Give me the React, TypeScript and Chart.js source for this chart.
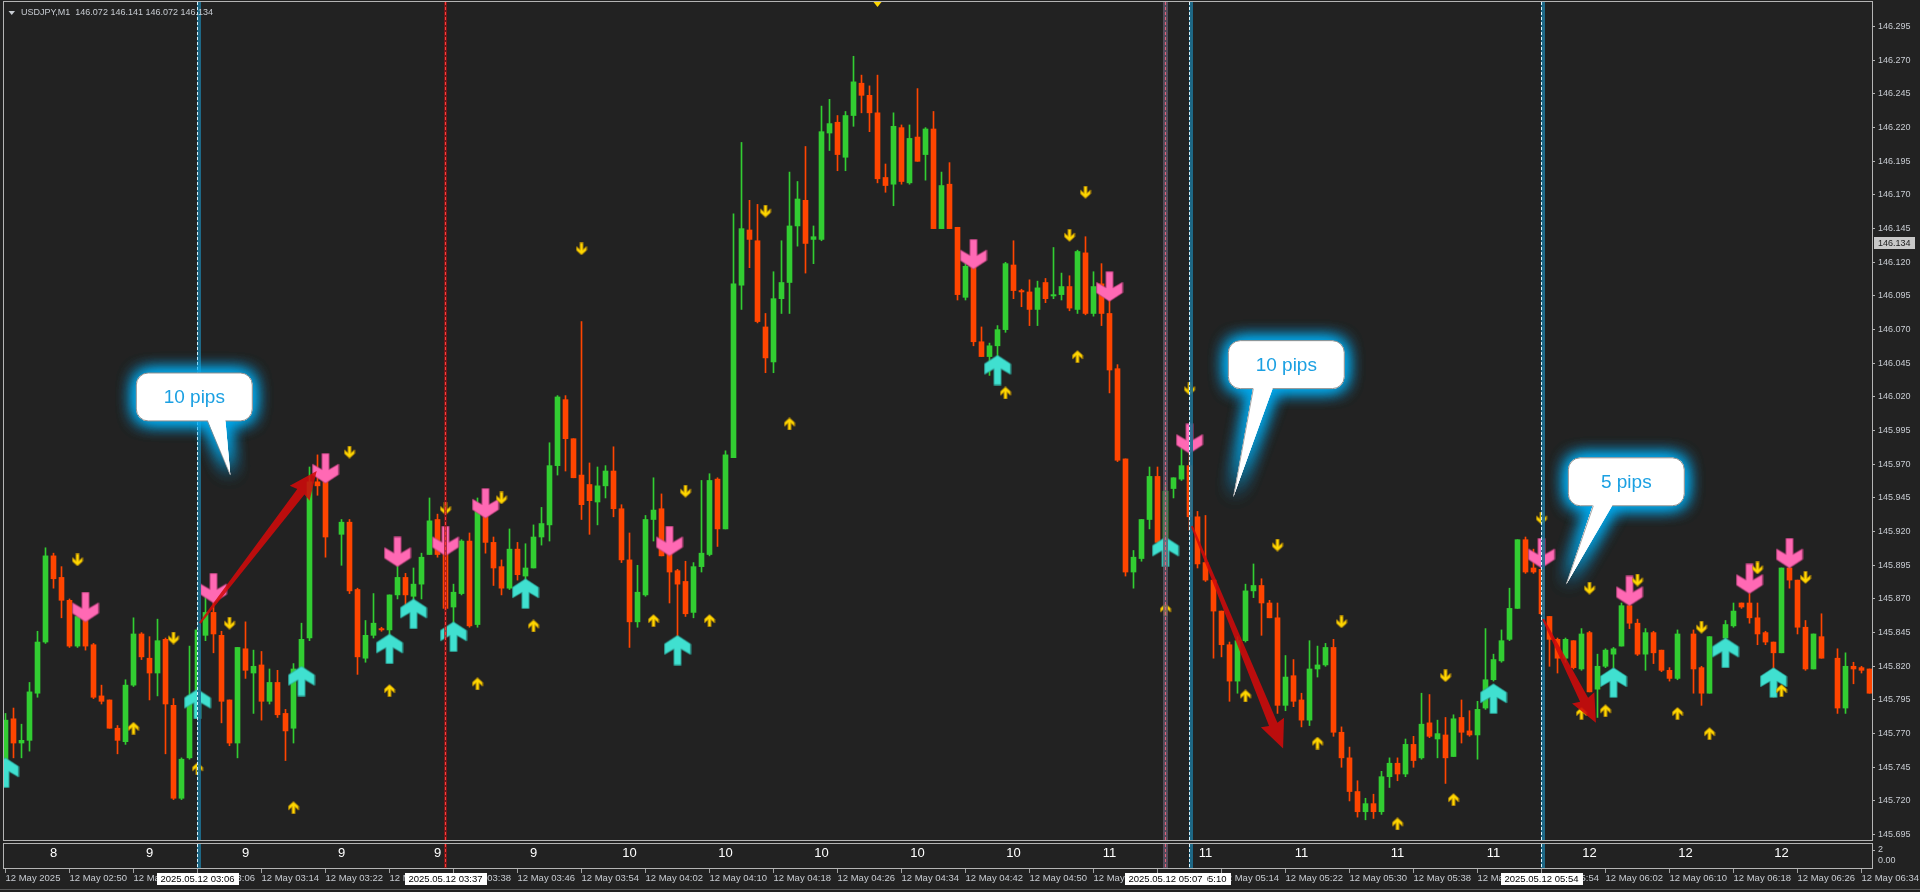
import React, { useEffect, useRef } from 'react';
import { Chart, registerables } from 'chart.js';

Chart.register(...registerables);

const TITLE = 'USDJPY,M1  146.072 146.141 146.072 146.134';
const LAST_PRICE = 146.134;

// one-minute candles, 12 May 2025 02:42 .. 06:35 (null = no visible candle)
const OPEN = [
  145.748,145.781,145.763,145.765,145.800,145.838,145.902,145.886,145.869,145.835,
  145.855,145.836,145.798,145.795,145.774,145.764,145.806,145.844,145.826,145.815,
  145.840,145.791,145.722,145.752,145.802,145.843,145.860,145.843,145.795,145.763,
  145.833,145.815,145.821,145.794,145.808,145.785,145.774,145.817,145.841,145.957,
  145.958,null,145.918,145.927,145.877,145.826,145.843,145.848,145.847,145.873,
  145.886,145.872,145.881,145.903,145.929,145.904,145.864,145.874,145.913,145.851,
  145.933,145.912,145.894,145.878,145.907,145.887,145.893,145.916,145.925,145.969,
  146.018,145.989,145.962,145.955,145.942,145.954,145.965,145.937,145.899,145.853,
  145.873,145.929,145.937,145.904,145.891,145.883,145.860,145.894,145.903,145.959,
  145.922,145.975,146.103,146.144,146.136,146.072,146.046,146.093,146.105,146.147,
  146.166,146.137,146.137,146.216,146.224,146.198,146.229,146.253,146.244,146.231,
  146.183,146.178,146.220,146.179,146.213,146.200,146.219,146.145,146.178,146.146,
  146.094,146.117,146.061,146.050,146.058,146.070,146.118,146.099,146.098,146.085,
  146.105,146.095,146.096,146.102,146.085,146.127,146.082,146.104,146.082,146.041,
  145.974,145.890,145.900,145.929,145.961,145.912,145.952,145.959,145.969,145.931,
  145.897,145.884,145.861,145.836,145.809,145.839,145.876,145.880,145.867,145.856,
  145.791,145.813,145.795,145.780,145.818,145.821,145.834,145.771,145.752,145.727,
  145.712,145.718,145.712,145.738,145.748,145.740,145.762,145.752,145.778,145.766,
  145.769,145.753,145.782,145.772,145.769,145.789,145.810,145.824,145.840,145.863,
  145.914,145.893,145.892,145.857,145.840,145.826,145.839,145.818,145.845,145.803,
  145.820,145.829,145.835,145.865,145.852,145.829,145.845,145.832,145.817,145.811,
  null,145.844,145.819,145.800,null,145.841,145.850,145.867,145.867,145.856,
  145.845,145.838,145.830,145.893,145.884,145.849,145.818,145.842,null,145.826,
  145.789,145.820,145.819,145.818
];
const HIGH = [
  145.785,145.789,145.777,145.808,145.846,145.908,145.904,145.894,145.870,145.859,
  145.857,145.837,145.806,145.795,145.776,145.810,145.856,145.845,145.842,145.855,
  145.841,145.796,145.752,145.835,145.848,145.874,145.870,145.846,145.795,145.834,
  145.853,145.832,145.831,145.818,145.817,145.788,145.822,145.852,145.968,145.977,
  145.958,null,145.929,145.929,145.878,145.854,145.874,145.849,145.873,145.896,
  145.889,145.893,145.904,145.945,145.933,145.923,145.881,145.914,145.919,145.945,
  145.933,145.916,145.899,145.922,145.912,145.911,145.925,145.938,145.986,146.021,
  146.021,145.989,146.076,145.971,145.968,145.969,145.983,145.940,145.919,145.895,
  145.932,145.960,145.948,145.904,145.892,145.898,145.897,145.958,145.963,145.960,
  145.980,146.156,146.209,146.166,146.163,146.082,146.113,146.136,146.187,146.180,
  146.206,146.147,146.236,146.241,146.229,146.232,146.273,146.259,146.251,146.259,
  146.193,146.231,146.222,146.222,146.249,146.220,146.232,146.187,146.194,146.146,
  146.125,146.118,146.072,146.060,146.073,146.120,146.136,146.100,146.107,146.106,
  146.108,146.131,146.112,146.110,146.129,146.139,146.113,146.119,146.092,146.044,
  145.974,145.906,145.929,145.968,145.968,145.955,145.960,145.982,145.982,145.935,
  145.932,145.884,145.861,145.838,145.842,145.881,145.896,145.885,145.869,145.867,
  145.828,145.825,145.800,145.839,145.835,145.837,145.840,145.775,145.760,145.735,
  145.722,145.725,145.742,145.752,145.752,145.766,145.768,145.800,145.799,145.780,
  145.782,145.784,145.795,145.787,145.794,145.848,145.829,145.847,145.878,145.914,
  145.916,145.907,145.910,145.857,145.841,145.841,145.839,145.848,145.846,145.829,
  145.833,145.834,145.867,145.867,145.855,145.848,145.846,145.832,145.819,145.847,
  null,145.847,145.820,145.842,null,145.854,145.867,145.867,145.874,145.867,
  145.846,145.838,145.893,145.896,145.884,145.854,145.844,145.859,null,145.833,
  145.830,145.823,145.820,145.818
];
const LOW = [
  145.742,145.752,145.752,145.757,145.797,145.837,145.878,145.856,145.834,145.834,
  145.832,145.796,145.792,145.774,145.755,145.762,145.805,145.825,145.795,145.798,
  145.755,145.721,145.721,145.751,145.794,145.839,145.830,145.778,145.761,145.752,
  145.811,145.785,145.780,145.792,145.782,145.750,145.763,145.817,145.839,145.947,
  145.901,null,145.895,145.874,145.814,145.823,145.841,145.846,145.841,145.870,
  145.861,145.861,145.870,145.903,145.901,145.862,145.849,145.873,145.849,145.849,
  145.904,145.880,145.873,145.877,145.884,145.883,145.893,145.910,145.913,145.962,
  145.965,145.960,145.929,145.918,145.925,145.945,145.931,145.897,145.834,145.849,
  145.872,145.913,145.902,145.867,145.838,145.857,145.856,145.890,145.902,145.909,
  145.922,145.975,146.085,146.116,146.075,146.038,146.038,146.082,146.082,146.132,
  146.112,146.119,146.136,146.203,146.188,146.188,146.221,146.231,146.217,146.179,
  146.172,146.162,146.178,146.178,146.195,146.181,146.145,146.145,146.145,146.092,
  146.092,146.058,146.050,146.036,146.043,146.068,146.093,146.087,146.073,146.073,
  146.090,146.093,146.092,146.084,146.082,146.081,146.080,146.073,146.023,145.972,
  145.887,145.878,145.898,145.922,145.912,145.905,145.945,145.958,145.921,145.893,
  145.883,145.826,145.827,145.794,145.800,145.838,145.871,145.843,145.856,145.785,
  145.787,145.790,145.775,145.776,145.812,145.820,145.768,145.745,145.720,145.708,
  145.706,145.707,145.710,145.730,145.735,145.738,145.745,145.751,145.767,145.752,
  145.733,145.753,145.763,145.768,145.751,145.788,145.809,145.823,145.839,145.863,
  145.889,145.889,145.858,145.820,145.815,145.823,145.818,145.817,145.801,145.782,
  145.819,145.819,145.835,145.848,145.828,145.817,145.822,145.816,145.809,145.810,
  null,145.800,145.791,145.800,null,145.840,145.849,145.863,145.852,145.836,
  145.836,145.797,145.830,145.878,145.844,145.817,145.818,145.826,null,145.785,
  145.785,145.807,145.815,145.800
];
const CLOSE = [
  145.780,145.763,145.765,145.801,145.838,145.902,145.885,145.869,145.835,145.857,
  145.835,145.797,145.794,145.774,145.765,145.806,145.844,145.827,145.815,145.839,
  145.792,145.722,145.751,145.798,145.847,145.860,145.844,145.794,145.763,145.834,
  145.817,145.820,145.794,145.808,145.784,145.772,145.818,145.840,145.957,145.954,
  145.916,null,145.927,145.876,145.827,145.843,145.852,145.847,145.873,145.886,
  145.873,145.881,145.901,145.928,145.903,145.863,145.875,145.913,145.850,145.935,
  145.912,145.893,145.878,145.907,145.888,145.893,145.916,145.926,145.969,146.020,
  145.989,145.960,145.940,145.943,145.954,145.965,145.937,145.899,145.853,145.875,
  145.929,145.936,145.902,145.890,145.881,145.859,145.894,145.904,145.958,145.922,
  145.977,146.104,146.145,146.137,146.076,146.049,146.093,146.105,146.147,146.167,
  146.134,146.139,146.217,146.223,146.200,146.229,146.254,146.244,146.231,146.182,
  146.177,146.221,146.180,146.212,146.195,146.219,146.145,146.177,146.145,146.096,
  146.117,146.061,146.050,146.058,146.070,146.119,146.099,146.098,146.085,146.101,
  146.093,146.096,146.102,146.086,146.128,146.082,146.102,146.082,146.040,145.973,
  145.890,145.901,145.929,145.961,145.912,145.950,145.960,145.969,145.931,145.896,
  145.884,145.861,145.836,145.809,145.839,145.876,145.880,145.867,145.856,145.791,
  145.812,145.794,145.780,145.818,145.821,145.834,145.771,145.752,145.727,145.712,
  145.718,145.712,145.738,145.748,145.740,145.762,145.750,145.777,145.768,145.770,
  145.752,145.781,145.771,145.769,145.788,145.810,145.825,145.839,145.863,145.914,
  145.890,145.890,145.859,145.840,145.826,145.840,145.819,145.844,145.801,145.820,
  145.832,145.833,145.865,145.852,145.829,145.845,145.830,145.817,145.811,145.844,
  null,145.818,145.800,145.842,null,145.851,145.861,145.864,145.856,145.844,
  145.838,145.830,145.893,145.884,145.849,145.818,145.844,145.826,null,145.789,
  145.820,145.818,145.817,145.800
];

// signal arrows: bar index + price of the arrow centre
const PINK_K = [10, 26, 40, 49, 55, 60, 83, 121, 138, 148, 192, 203, 218, 223];
const PINK_P = [145.864, 145.878, 145.967, 145.905, 145.913, 145.941, 145.913, 146.126, 146.102, 145.989, 145.904, 145.876, 145.885, 145.904];
const CYAN_K = [0, 24, 37, 48, 51, 56, 65, 84, 124, 145, 186, 201, 215, 221];
const CYAN_P = [145.741, 145.792, 145.809, 145.833, 145.859, 145.842, 145.874, 145.832, 146.040, 145.905, 145.796, 145.808, 145.830, 145.808];
const YDN_K = [9, 21, 28, 43, 55, 62, 72, 85, 95, 133, 135, 148, 159, 167, 180, 192, 198, 204, 212, 219, 225];
const YDN_P = [145.899, 145.841, 145.852, 145.979, 145.937, 145.945, 146.130, 145.950, 146.158, 146.140, 146.172, 146.026, 145.910, 145.853, 145.813, 145.930, 145.878, 145.884, 145.849, 145.893, 145.886];
const YUP_K = [16, 24, 36, 48, 59, 66, 81, 88, 98, 125, 134, 145, 155, 164, 174, 181, 197, 200, 209, 213, 222];
const YUP_P = [145.774, 145.744, 145.715, 145.802, 145.807, 145.850, 145.854, 145.854, 146.000, 146.023, 146.050, 145.862, 145.798, 145.763, 145.703, 145.721, 145.785, 145.787, 145.785, 145.770, 145.802];

// red move arrows
const MOVE_FROM_K = [24.3, 148.3, 192.2];
const MOVE_FROM_P = [145.852, 145.924, 145.855];
const MOVE_TO_K = [38.9, 159.7, 198.8];
const MOVE_TO_P = [145.965, 145.759, 145.778];

// callouts
const CALLOUT_TEXT = ['10 pips', '10 pips', '5 pips'];
const CALLOUT_K = [23.6, 160.1, 202.6];
const CALLOUT_P = [146.020, 146.044, 145.957];
const CALLOUT_TIP_K = [28.1, 153.5, 195.1];
const CALLOUT_TIP_P = [145.962, 145.946, 145.881];

// vertical session lines
const CYAN_LINE_K = [24, 148, 192];
const RED_LINE_K = [55];
const ROSE_LINE_K = [145];
const MARK_K = [24, 55, 148, 145, 192];
const MARK_TEXT = ['2025.05.12 03:06', '2025.05.12 03:37', '2025.05.12 05:10', '2025.05.12 05:07', '2025.05.12 05:54'];

// axes
const Y_TICKS = [145.695, 145.720, 145.745, 145.770, 145.795, 145.820, 145.845, 145.870, 145.895, 145.920, 145.945, 145.970, 145.995, 146.020, 146.045, 146.070, 146.095, 146.120, 146.145, 146.170, 146.195, 146.220, 146.245, 146.270, 146.295];
const TIME_K = [0, 8, 16, 24, 32, 40, 48, 56, 64, 72, 80, 88, 96, 104, 112, 120, 128, 136, 144, 152, 160, 168, 176, 184, 192, 200, 208, 216, 224, 232];
const TIME_LABELS = ['12 May 2025', '12 May 02:50', '12 May 02:58', '12 May 03:06', '12 May 03:14', '12 May 03:22', '12 May 03:30', '12 May 03:38', '12 May 03:46', '12 May 03:54', '12 May 04:02', '12 May 04:10', '12 May 04:18', '12 May 04:26', '12 May 04:34', '12 May 04:42', '12 May 04:50', '12 May 04:58', '12 May 05:06', '12 May 05:14', '12 May 05:22', '12 May 05:30', '12 May 05:38', '12 May 05:46', '12 May 05:54', '12 May 06:02', '12 May 06:10', '12 May 06:18', '12 May 06:26', '12 May 06:34'];

// sub-window labels
const SUB_K = [6, 18, 30, 42, 54, 66, 78, 90, 102, 114, 126, 138, 150, 162, 174, 186, 198, 210, 222];
const SUB_V = ['8', '9', '9', '9', '9', '9', '10', '10', '10', '10', '10', '11', '11', '11', '11', '11', '12', '12', '12'];
const SUB_AXIS = ['2', '0.00'];
const TOP_MARK_K = [109];

const BG = '#222222';
const BULL = '#32CD32';
const BEAR = '#FF4500';
const TXT = '#C8CCD2';
const FONT = '"Liberation Sans", Arial, sans-serif';
const FRAME = '#B4B4B4';

function makeArrow(fill: string, edge: string, dir: 'up' | 'down', big: boolean): HTMLCanvasElement {
  const pts = big
    ? [[-3.5, 0], [3.5, 0], [3.5, 16], [13, 10.5], [13, 21], [0, 29.5], [-13, 21], [-13, 10.5], [-3.5, 16]]
    : [[-1.5, 0], [1.5, 0], [1.5, 7], [5, 3.5], [5, 7.5], [0, 12], [-5, 7.5], [-5, 3.5], [-1.5, 7]];
  const H = big ? 29.5 : 12;
  const w = big ? 28 : 12;
  const h = big ? 31 : 13;
  const c = document.createElement('canvas');
  c.width = w;
  c.height = h;
  const g = c.getContext('2d') as CanvasRenderingContext2D;
  g.translate(w / 2, (h - H) / 2);
  g.beginPath();
  pts.forEach(([x, y], i) => {
    const yy = dir === 'down' ? y : H - y;
    if (i) g.lineTo(x, yy);
    else g.moveTo(x, yy);
  });
  g.closePath();
  g.fillStyle = fill;
  g.fill();
  g.strokeStyle = edge;
  g.lineWidth = big ? 0.8 : 0.7;
  g.stroke();
  return c;
}

function vline(ctx: CanvasRenderingContext2D, x: number, y0: number, y1: number, kind: string) {
  ctx.save();
  if (kind === 'cyan') {
    ctx.fillStyle = 'rgba(30,112,145,0.9)';
    ctx.fillRect(x - 0.5, y0, 4, y1 - y0);
    ctx.strokeStyle = '#D6F3FF';
  } else if (kind === 'red') {
    ctx.fillStyle = 'rgba(150,20,20,0.7)';
    ctx.fillRect(x - 1.5, y0, 3, y1 - y0);
    ctx.strokeStyle = '#FF3A3A';
  } else {
    ctx.fillStyle = 'rgba(100,88,108,0.8)';
    ctx.fillRect(x - 2.5, y0, 5, y1 - y0);
    ctx.strokeStyle = '#E0607A';
  }
  ctx.lineWidth = 1;
  ctx.setLineDash([3, 2]);
  ctx.beginPath();
  ctx.moveTo(x, y0);
  ctx.lineTo(x, y1);
  ctx.stroke();
  ctx.restore();
}

function drawLines(chart: any, y0: number, y1: number) {
  const ctx = chart.ctx as CanvasRenderingContext2D;
  const xs = chart.scales.x;
  RED_LINE_K.forEach((k) => vline(ctx, xs.getPixelForValue(k), y0, y1, 'red'));
  ROSE_LINE_K.forEach((k) => vline(ctx, xs.getPixelForValue(k), y0, y1, 'rose'));
  CYAN_LINE_K.forEach((k) => vline(ctx, xs.getPixelForValue(k), y0, y1, 'cyan'));
}

function moveArrow(ctx: CanvasRenderingContext2D, x0: number, y0: number, x1: number, y1: number) {
  const dx = x1 - x0, dy = y1 - y0, L = Math.hypot(dx, dy);
  const ux = dx / L, uy = dy / L, nx = -uy, ny = ux;
  const headL = 26, headW = 12.5, tailW = 1, neckW = 4.5;
  const bx = x1 - ux * headL, by = y1 - uy * headL;
  ctx.save();
  ctx.beginPath();
  ctx.moveTo(x0 + nx * tailW, y0 + ny * tailW);
  ctx.lineTo(bx + nx * neckW, by + ny * neckW);
  ctx.lineTo(bx + nx * headW - ux * 2, by + ny * headW - uy * 2);
  ctx.lineTo(x1, y1);
  ctx.lineTo(bx - nx * headW - ux * 2, by - ny * headW - uy * 2);
  ctx.lineTo(bx - nx * neckW, by - ny * neckW);
  ctx.lineTo(x0 - nx * tailW, y0 - ny * tailW);
  ctx.closePath();
  ctx.fillStyle = 'rgba(208,10,10,0.88)';
  ctx.fill();
  ctx.restore();
}

function roundRectPath(ctx: CanvasRenderingContext2D, x: number, y: number, w: number, h: number, r: number) {
  ctx.beginPath();
  ctx.moveTo(x + r, y);
  ctx.lineTo(x + w - r, y);
  ctx.arcTo(x + w, y, x + w, y + r, r);
  ctx.lineTo(x + w, y + h - r);
  ctx.arcTo(x + w, y + h, x + w - r, y + h, r);
  ctx.lineTo(x + r, y + h);
  ctx.arcTo(x, y + h, x, y + h - r, r);
  ctx.lineTo(x, y + r);
  ctx.arcTo(x, y, x + r, y, r);
  ctx.closePath();
}

function callout(ctx: CanvasRenderingContext2D, cx: number, cy: number, tx: number, ty: number, text: string) {
  const w = 116, h = 48, r = 12;
  const x0 = cx - w / 2, y0 = cy - h / 2;
  const side = tx > cx ? 1 : -1;
  const b0 = side > 0 ? 13 : -33;
  const b1 = side > 0 ? 31 : -13;
  const tail = () => {
    ctx.beginPath();
    ctx.moveTo(cx + b0, y0 + h - 2);
    ctx.lineTo(tx, ty);
    ctx.lineTo(cx + b1, y0 + h - 2);
    ctx.closePath();
  };
  ctx.save();
  ctx.fillStyle = '#FFFFFF';
  ctx.shadowColor = 'rgba(0,175,245,1)';
  ctx.shadowBlur = 18;
  for (let i = 0; i < 3; i++) {
    roundRectPath(ctx, x0, y0, w, h, r);
    ctx.fill();
    tail();
    ctx.fill();
  }
  ctx.shadowBlur = 0;
  ctx.shadowColor = 'transparent';
  roundRectPath(ctx, x0, y0, w, h, r);
  ctx.fill();
  ctx.strokeStyle = '#8C8C8C';
  ctx.lineWidth = 1;
  ctx.stroke();
  tail();
  ctx.fill();
  ctx.strokeStyle = 'rgba(140,140,140,0.8)';
  ctx.beginPath();
  ctx.moveTo(cx + b0, y0 + h);
  ctx.lineTo(tx, ty);
  ctx.stroke();
  ctx.fillStyle = '#1BA0E2';
  ctx.font = `19px ${FONT}`;
  ctx.textAlign = 'center';
  ctx.textBaseline = 'middle';
  ctx.fillText(text, cx, cy + 1);
  ctx.restore();
}

const mtPlugin = {
  id: 'mtChrome',
  beforeDraw(chart: any) {
    const ctx = chart.ctx as CanvasRenderingContext2D;
    ctx.save();
    ctx.fillStyle = BG;
    ctx.fillRect(0, 0, chart.width, chart.height);
    ctx.restore();
  },
  afterDatasetsDraw(chart: any) {
    const ctx = chart.ctx as CanvasRenderingContext2D;
    const xs = chart.scales.x, ys = chart.scales.y;
    const a = chart.chartArea;
    ctx.save();
    ctx.beginPath();
    ctx.rect(a.left, a.top, a.right - a.left, a.bottom - a.top);
    ctx.clip();
    drawLines(chart, a.top, a.bottom);
    MOVE_FROM_K.forEach((k, i) => {
      moveArrow(ctx, xs.getPixelForValue(k), ys.getPixelForValue(MOVE_FROM_P[i]), xs.getPixelForValue(MOVE_TO_K[i]), ys.getPixelForValue(MOVE_TO_P[i]));
    });
    CALLOUT_K.forEach((k, i) => {
      callout(ctx, xs.getPixelForValue(k), ys.getPixelForValue(CALLOUT_P[i]), xs.getPixelForValue(CALLOUT_TIP_K[i]), ys.getPixelForValue(CALLOUT_TIP_P[i]), CALLOUT_TEXT[i]);
    });
    TOP_MARK_K.forEach((k) => {
      const x = xs.getPixelForValue(k);
      ctx.fillStyle = '#FFD700';
      ctx.beginPath();
      ctx.moveTo(x - 4, a.top);
      ctx.lineTo(x + 4, a.top);
      ctx.lineTo(x, a.top + 5);
      ctx.closePath();
      ctx.fill();
    });
    ctx.restore();
  },
  afterDraw(chart: any) {
    const ctx = chart.ctx as CanvasRenderingContext2D;
    const xs = chart.scales.x, ys = chart.scales.y;
    const a = chart.chartArea;
    const subTop = a.bottom + 3, subBot = a.bottom + 28;
    ctx.save();
    // frames
    ctx.strokeStyle = FRAME;
    ctx.lineWidth = 1;
    ctx.strokeRect(a.left + 0.5, a.top - 0.5, a.right - a.left, a.bottom - a.top + 1);
    ctx.strokeRect(a.left + 0.5, subTop + 0.5, a.right - a.left, subBot - subTop);
    // sub window
    ctx.save();
    ctx.beginPath();
    ctx.rect(a.left + 1, subTop + 1, a.right - a.left - 1, subBot - subTop - 1);
    ctx.clip();
    drawLines(chart, subTop + 1, subBot);
    ctx.fillStyle = '#FFFFFF';
    ctx.font = `13px ${FONT}`;
    ctx.textAlign = 'center';
    ctx.textBaseline = 'middle';
    SUB_K.forEach((k, i) => ctx.fillText(SUB_V[i], xs.getPixelForValue(k), subTop + 10));
    ctx.restore();
    ctx.fillStyle = TXT;
    ctx.font = `9px ${FONT}`;
    ctx.textAlign = 'left';
    ctx.textBaseline = 'middle';
    ctx.fillText(SUB_AXIS[0], a.right + 6, subTop + 7);
    ctx.fillText(SUB_AXIS[1], a.right + 6, subTop + 18);
    ctx.fillStyle = FRAME;
    ctx.fillRect(a.right, subTop + 7, 3, 1);
    // time axis tick marks
    ctx.fillStyle = '#A0A0A0';
    TIME_K.forEach((k) => {
      const x = Math.floor(xs.getPixelForValue(k));
      ctx.fillRect(x, subBot + 1, 1, 4);
    });
    // highlighted time stamps
    ctx.font = `9.5px ${FONT}`;
    ctx.textAlign = 'center';
    MARK_K.forEach((k, i) => {
      const x = xs.getPixelForValue(k);
      ctx.fillStyle = '#FFFFFF';
      ctx.fillRect(Math.round(x - 41), subBot + 5, 82, 12);
      ctx.fillStyle = '#000000';
      ctx.fillText(MARK_TEXT[i], x, subBot + 11.5);
    });
    // current price label
    ctx.font = `9px ${FONT}`;
    const yp = ys.getPixelForValue(LAST_PRICE);
    ctx.fillStyle = '#C8C8C8';
    ctx.fillRect(a.right + 2, Math.round(yp) - 6, 41, 12);
    ctx.fillStyle = '#1A1A1A';
    ctx.textAlign = 'left';
    ctx.fillText(LAST_PRICE.toFixed(3), a.right + 6, yp + 0.5);
    // title
    ctx.fillStyle = TXT;
    ctx.beginPath();
    ctx.moveTo(8.5, 11);
    ctx.lineTo(15, 11);
    ctx.lineTo(11.75, 15);
    ctx.closePath();
    ctx.fill();
    ctx.fillText(TITLE, 21, 13);
    // bottom edge
    ctx.fillStyle = '#5A5A5A';
    ctx.fillRect(0, chart.height - 3, chart.width, 1);
    ctx.restore();
  },
};

export default function App() {
  const ref = useRef<HTMLCanvasElement>(null);
  useEffect(() => {
    document.body.style.margin = '0';
    document.body.style.background = BG;
    const canvas = ref.current as HTMLCanvasElement;
    const idx = OPEN.map((_, i) => i).filter((i) => OPEN[i] !== null);
    const colorOf = (i: number) => ((CLOSE[i] as number) >= (OPEN[i] as number) ? BULL : BEAR);
    const wicks = idx.map((i) => ({ x: i, y: [LOW[i], HIGH[i]] }));
    const bodies = idx.map((i) => ({
      x: i,
      y: [Math.min(OPEN[i] as number, CLOSE[i] as number), Math.max(OPEN[i] as number, CLOSE[i] as number)],
    }));
    const colors = idx.map(colorOf);
    const pinkImg = makeArrow('#FF69B4', '#C0407F', 'down', true);
    const cyanImg = makeArrow('#40E0D0', '#2AA89C', 'up', true);
    const ydnImg = makeArrow('#FFD700', '#B88600', 'down', false);
    const yupImg = makeArrow('#FFD700', '#B88600', 'up', false);
    const pts = (K: number[], P: number[]) => K.map((k, i) => ({ x: k, y: P[i] }));
    const scatter = (data: any[], img: HTMLCanvasElement) => ({
      type: 'scatter' as const,
      data,
      pointStyle: img,
      pointRadius: 6,
      pointHoverRadius: 6,
      order: 1,
    });

    const chart = new Chart(canvas, {
      type: 'bar',
      data: {
        datasets: [
          { type: 'bar', data: wicks as any, backgroundColor: colors, barThickness: 1, minBarLength: 1, grouped: false, order: 3, borderWidth: 0 } as any,
          { type: 'bar', data: bodies as any, backgroundColor: colors, barThickness: 5, minBarLength: 1, grouped: false, order: 2, borderWidth: 0 } as any,
          scatter(pts(YDN_K, YDN_P), ydnImg),
          scatter(pts(YUP_K, YUP_P), yupImg),
          scatter(pts(PINK_K, PINK_P), pinkImg),
          scatter(pts(CYAN_K, CYAN_P), cyanImg),
        ],
      },
      options: {
        responsive: false,
        animation: false,
        devicePixelRatio: 1,
        events: [],
        layout: { autoPadding: false, padding: { left: 3, top: 2, right: 0, bottom: 0 } },
        plugins: { legend: { display: false }, tooltip: { enabled: false } },
        scales: {
          x: {
            type: 'linear',
            position: 'bottom',
            offset: false,
            min: -0.3125,
            max: 233.3125,
            grid: { display: true, offset: false, drawOnChartArea: false, drawTicks: false },
            border: { display: false },
            ticks: {
              autoSkip: false,
              maxRotation: 0,
              minRotation: 0,
              align: 'start',
              padding: 33,
              color: TXT,
              font: { family: FONT, size: 9.5 },
              callback: (v: any) => {
                const i = TIME_K.indexOf(Number(v));
                return i >= 0 ? TIME_LABELS[i] : '';
              },
            },
            afterBuildTicks: (s: any) => {
              s.ticks = TIME_K.map((v) => ({ value: v }));
            },
            afterFit: (s: any) => {
              s.height = 52;
              s.paddingLeft = 0;
              s.paddingRight = 0;
            },
          },
          y: {
            type: 'linear',
            position: 'right',
            min: 145.691,
            max: 146.3133,
            grid: { display: true, drawOnChartArea: false, drawTicks: true, tickLength: 3, color: FRAME },
            border: { display: false },
            ticks: {
              padding: 3,
              color: TXT,
              font: { family: FONT, size: 9 },
              callback: (v: any) => Number(v).toFixed(3),
            },
            afterBuildTicks: (s: any) => {
              s.ticks = Y_TICKS.map((v) => ({ value: v }));
            },
            afterFit: (s: any) => {
              s.width = 48;
              s.paddingTop = 0;
              s.paddingBottom = 0;
            },
          },
        },
      } as any,
      plugins: [mtPlugin],
    });
    return () => chart.destroy();
  }, []);
  return <canvas ref={ref} width={1920} height={892} style={{ display: 'block' }} />;
}
